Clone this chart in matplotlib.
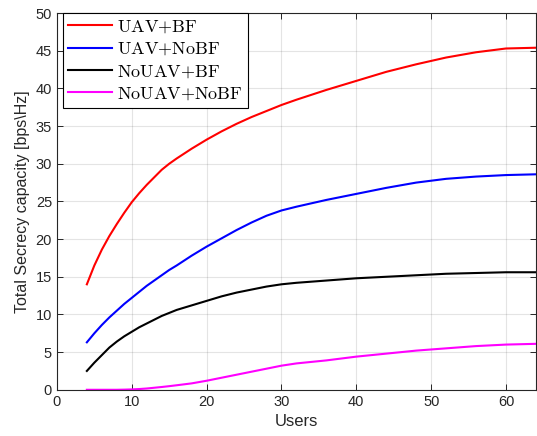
import numpy as np
import matplotlib
matplotlib.use("Agg")
import matplotlib.pyplot as plt

users = [4, 5, 6, 7, 8, 9, 10, 11, 12, 13, 14, 15, 16, 18, 20, 22, 24, 26, 28, 30,
         32, 36, 40, 44, 48, 52, 56, 60, 64]

uav_bf = [14.0, 16.5, 18.6, 20.4, 22.0, 23.5, 24.9, 26.1, 27.2, 28.2, 29.2, 30.0,
          30.7, 32.0, 33.2, 34.3, 35.3, 36.2, 37.0, 37.8, 38.5, 39.8, 41.0, 42.2,
          43.2, 44.1, 44.8, 45.3, 45.4]
uav_nobf = [6.3, 7.5, 8.6, 9.6, 10.5, 11.4, 12.2, 13.0, 13.8, 14.5, 15.2, 15.9,
            16.5, 17.8, 19.0, 20.1, 21.2, 22.2, 23.1, 23.8, 24.3, 25.2, 26.0, 26.8,
            27.5, 28.0, 28.3, 28.5, 28.6]
nouav_bf = [2.5, 3.6, 4.6, 5.6, 6.4, 7.1, 7.7, 8.3, 8.8, 9.3, 9.8, 10.2,
            10.6, 11.2, 11.8, 12.4, 12.9, 13.3, 13.7, 14.0, 14.2, 14.5, 14.8, 15.0,
            15.2, 15.4, 15.5, 15.6, 15.6]
nouav_nobf = [0.0, 0.0, 0.0, 0.0, 0.0, 0.02, 0.05, 0.1, 0.17, 0.27, 0.37, 0.48,
              0.6, 0.85, 1.2, 1.6, 2.0, 2.4, 2.8, 3.2, 3.5, 3.9, 4.4, 4.8,
              5.2, 5.5, 5.8, 6.0, 6.1]

labels = ["UAV{+}BF", "UAV{+}NoBF", "NoUAV{+}BF", "NoUAV{+}NoBF"]
colors = ["#ff0000", "#0000ff", "#000000", "#ff00ff"]

plt.rcParams["font.family"] = ["Liberation Sans", "DejaVu Sans"]
plt.rcParams["mathtext.fontset"] = "cm"

fig = plt.figure(figsize=(5.37, 4.36), dpi=100)
ax = fig.add_axes([0.106, 0.106, 0.892, 0.864])

for series, lab, col in zip([uav_bf, uav_nobf, nouav_bf, nouav_nobf], labels, colors):
    ax.plot(users, series, color=col, linewidth=1.5, label=r"$\mathrm{" + lab + "}$")

ax.set_xlim(0, 64)
ax.set_ylim(0, 50)
ax.set_xticks(np.arange(0, 61, 10))
ax.set_yticks(np.arange(0, 51, 5))
ax.grid(True, color="#262626", alpha=0.12, linewidth=0.8)
ax.tick_params(direction="in", top=True, right=True, colors="#262626",
               labelsize=10.5, length=4, width=0.7)
for s in ax.spines.values():
    s.set_color("#262626")
    s.set_linewidth(0.8)

ax.set_xlabel("Users", fontsize=12, color="#262626")
ax.set_ylabel(r"Total Secrecy capacity [bps\Hz]", fontsize=11.5, color="#262626")

leg = ax.legend(loc="upper left", bbox_to_anchor=(0.012, 1.0), fontsize=13,
                handlelength=2.45, fancybox=False, framealpha=1, edgecolor="#000000",
                borderpad=0.3, labelspacing=0.3, handletextpad=0.25,
                borderaxespad=0.0)
leg.get_frame().set_linewidth(0.8)

fig.savefig("out.png", dpi=100)
